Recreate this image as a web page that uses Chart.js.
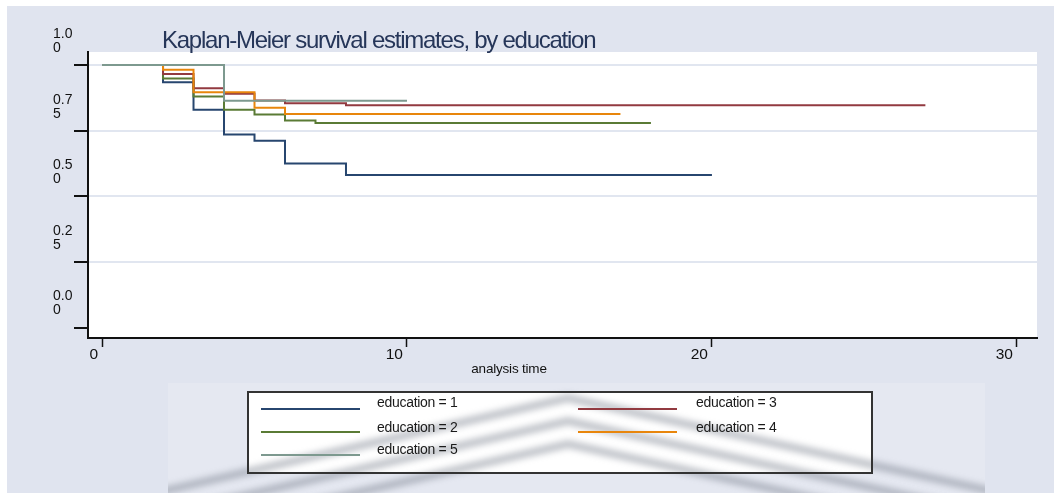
<!DOCTYPE html>
<html>
<head>
<meta charset="utf-8">
<script src="https://cdn.jsdelivr.net/npm/chart.js@4.4.1/dist/chart.umd.min.js"></script>
<style>
  html, body { margin: 0; padding: 0; background: #ffffff; overflow: hidden; }
  canvas { display: block; }
</style>
</head>
<body>
<canvas id="km" width="1054" height="493"></canvas>
<script>
// Text
const titleText = 'Kaplan-Meier survival estimates, by education';
const xTitleText = 'analysis time';
const groupLabels = ['education = 1', 'education = 2', 'education = 3', 'education = 4', 'education = 5'];
const groupColors = ['#27466f', '#5a7b35', '#923a40', '#e8860c', '#7d998f'];

// Event times and survival estimates for each education group
const time1 = [0, 2, 3, 4, 5, 6, 8, 20];
const surv1 = [1, 0.935, 0.830, 0.736, 0.712, 0.625, 0.581, 0.581];
const time2 = [0, 2, 3, 4, 5, 6, 7, 18];
const surv2 = [1, 0.949, 0.880, 0.830, 0.812, 0.789, 0.779, 0.779];
const time3 = [0, 2, 3, 4, 5, 6, 8, 27];
const surv3 = [1, 0.966, 0.912, 0.891, 0.865, 0.855, 0.847, 0.847];
const time4 = [0, 2, 3, 5, 6, 17];
const surv4 = [1, 0.982, 0.897, 0.838, 0.814, 0.814];
const time5 = [0, 4, 10];
const surv5 = [1, 0.864, 0.864];

// Axis ticks
const xTicks = [0, 10, 20, 30];
const yTicks = [0, 0.25, 0.5, 0.75, 1];

// Legend: two columns, filled row by row
const legendOrder = [0, 2, 1, 3, 4];

const FONT = '"Liberation Sans", Arial, Helvetica, sans-serif';

const series = [[time1, surv1], [time2, surv2], [time3, surv3], [time4, surv4], [time5, surv5]];
const datasets = series.map(([t, s], i) => ({
  label: groupLabels[i],
  data: t.map((x, j) => ({ x: x, y: s[j] })),
  borderColor: groupColors[i],
  backgroundColor: groupColors[i],
  borderWidth: 2,
  pointRadius: 0,
  pointHoverRadius: 0,
  stepped: 'before',
  fill: false,
  // later groups are painted over earlier ones
  order: series.length - 1 - i
}));

// Page background, graph region and plot region
const paperPlugin = {
  id: 'paper',
  beforeDraw(chart) {
    const { ctx, chartArea: a } = chart;
    ctx.save();
    ctx.fillStyle = '#ffffff';
    ctx.fillRect(0, 0, chart.width, chart.height);
    ctx.fillStyle = '#e0e4ef';
    ctx.fillRect(7, 6, chart.width - 7, chart.height - 6);
    ctx.fillStyle = '#e5e8f1';
    ctx.fillRect(168, 383, 985 - 168, chart.height - 383);
    ctx.fillStyle = '#ffffff';
    ctx.fillRect(a.left, a.top, a.right - a.left, a.bottom - a.top);
    ctx.restore();
  }
};

// Soft grey chevron bands across the lower panel
function drawShading(ctx) {
  ctx.save();
  ctx.beginPath();
  ctx.rect(168, 383, 985 - 168, 110);
  ctx.clip();
  ctx.filter = 'blur(3px)';
  ctx.strokeStyle = 'rgba(110,116,132,0.42)';
  ctx.lineWidth = 8;
  ctx.lineJoin = 'round';
  [0, 23, 46].forEach(dy => {
    ctx.beginPath();
    ctx.moveTo(140, 398 + dy + 0.23 * (568 - 140));
    ctx.lineTo(568, 398 + dy);
    ctx.lineTo(1000, 398 + dy + 0.22 * (1000 - 568));
    ctx.stroke();
  });
  ctx.restore();
}

// Title, axis title and the boxed key
const textPlugin = {
  id: 'texts',
  afterDraw(chart) {
    const { ctx } = chart;
    ctx.save();
    ctx.font = '24px ' + FONT;
    ctx.letterSpacing = '-1.25px';
    ctx.fillStyle = '#263659';
    ctx.textAlign = 'left';
    ctx.textBaseline = 'alphabetic';
    ctx.fillText(titleText, 162, 48);

    ctx.letterSpacing = '-0.2px';
    ctx.font = '13.5px ' + FONT;
    ctx.fillStyle = '#111111';
    ctx.textAlign = 'center';
    ctx.textBaseline = 'middle';
    ctx.fillText(xTitleText, 509, 369);
    ctx.restore();

    // key box
    const box = { x: 248, y: 392, w: 872 - 248, h: 473 - 392 };
    ctx.save();
    ctx.fillStyle = '#ffffff';
    ctx.fillRect(box.x, box.y, box.w, box.h);
    ctx.restore();
    drawShading(ctx);
    ctx.save();
    ctx.strokeStyle = '#333333';
    ctx.lineWidth = 2;
    ctx.strokeRect(box.x, box.y, box.w, box.h);

    const colLine = [261, 578];
    const colText = [377, 696];
    const rowLine = [409, 432, 455];
    const rowText = [403, 428, 450];
    ctx.font = '14px ' + FONT;
    ctx.letterSpacing = '-0.3px';
    ctx.textAlign = 'left';
    ctx.textBaseline = 'middle';
    legendOrder.forEach((di, k) => {
      const ds = chart.data.datasets[di];
      const r = Math.floor(k / 2), c = k % 2;
      ctx.strokeStyle = ds.borderColor;
      ctx.lineWidth = 2;
      ctx.beginPath();
      ctx.moveTo(colLine[c], rowLine[r]);
      ctx.lineTo(colLine[c] + 99, rowLine[r]);
      ctx.stroke();
      ctx.fillStyle = '#1a1a1a';
      ctx.fillText(ds.label, colText[c], rowText[r]);
    });
    ctx.restore();
  }
};

new Chart(document.getElementById('km'), {
  type: 'line',
  data: { datasets: datasets },
  plugins: [paperPlugin, textPlugin],
  options: {
    responsive: false,
    animation: false,
    devicePixelRatio: 1,
    events: [],
    layout: { padding: { left: 53, right: 17, top: 52, bottom: 125 } },
    plugins: {
      legend: { display: false },
      title: { display: false },
      tooltip: { enabled: false }
    },
    scales: {
      x: {
        type: 'linear',
        min: -0.46,
        max: 30.66,
        afterBuildTicks: s => { s.ticks = xTicks.map(v => ({ value: v })); },
        afterFit: s => { s.height = 30; },
        border: { color: '#111111', width: 2 },
        grid: { drawOnChartArea: false, drawTicks: true, tickLength: 9, tickColor: '#111111', tickWidth: 1.5 },
        ticks: {
          font: { family: FONT, size: 15.5 },
          color: '#111111',
          align: 'end',
          labelOffset: -4,
          padding: -2,
          maxRotation: 0,
          autoSkip: false
        }
      },
      y: {
        type: 'linear',
        min: -0.04,
        max: 1.05,
        afterBuildTicks: s => { s.ticks = yTicks.map(v => ({ value: v })); },
        afterFit: s => { s.width = 35; },
        border: { color: '#111111', width: 2 },
        grid: {
          color: c => (c.tick && c.tick.value === 0) ? 'rgba(0,0,0,0)' : '#e1e6f0',
          lineWidth: 2,
          drawTicks: true,
          tickLength: 14,
          tickColor: '#111111',
          tickWidth: 2
        },
        ticks: {
          callback: v => { const s = Number(v).toFixed(2); return [s.slice(0, 3), s.slice(3)]; },
          crossAlign: 'far',
          labelOffset: -24,
          padding: 0,
          font: { family: FONT, size: 14, lineHeight: 1 },
          color: '#111111',
          autoSkip: false
        }
      }
    }
  }
});
</script>
</body>
</html>
